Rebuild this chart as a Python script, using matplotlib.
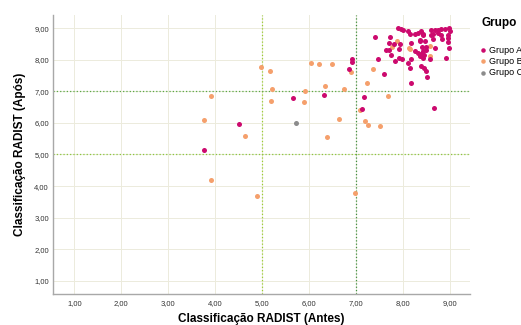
import matplotlib
matplotlib.use("Agg")
import matplotlib.pyplot as plt
from matplotlib.ticker import FuncFormatter

plt.rcParams['font.family'] = ['Liberation Sans', 'DejaVu Sans']

# Grupo A (magenta)
a_antes = [7.40, 6.92, 6.92, 7.47, 6.85, 5.66, 6.31, 7.17, 7.13, 4.51, 3.76,
           8.16, 8.65, 7.59, 8.50,
           7.88, 7.96, 7.99, 8.11, 8.14, 7.72, 7.70, 7.81, 7.93, 7.63, 7.70,
           7.91, 7.75, 7.91, 7.98, 7.82, 8.11,
           8.25, 8.38, 8.42, 8.60, 8.67, 8.74, 8.81, 8.89, 8.97, 8.99, 8.63,
           8.74, 8.81, 8.95, 8.17, 8.35, 8.49, 8.42, 8.25, 8.38, 8.45, 8.35,
           8.95, 8.95, 8.97, 8.91, 8.17, 8.38, 8.45, 8.49, 8.14, 8.43, 8.56,
           8.64, 8.82, 8.67, 8.39, 8.48, 8.32, 8.43, 8.32, 8.60, 8.36, 8.46]
a_apos = [8.71, 8.03, 7.94, 8.01, 7.71, 6.78, 6.90, 6.82, 6.44, 5.96, 5.13,
          7.26, 6.47, 7.55, 7.47,
          9.01, 8.99, 8.94, 8.92, 8.82, 8.71, 8.53, 8.51, 8.50, 8.31, 8.31,
          8.35, 8.15, 8.06, 8.03, 7.96, 7.90,
          8.82, 8.90, 8.82, 8.96, 8.96, 8.96, 8.99, 8.99, 9.00, 8.92, 8.82,
          8.85, 8.80, 8.80, 8.53, 8.59, 8.32, 8.27, 8.27, 8.19, 8.15, 8.11,
          8.69, 8.57, 8.38, 8.06, 8.01, 7.80, 7.74, 7.64, 7.74, 8.05, 8.02,
          8.65, 8.65, 8.37, 8.42, 8.42, 8.21, 8.79, 8.84, 8.79, 8.63, 8.58]

# Grupo B (laranja)
b_antes = [6.88, 7.36, 4.98, 5.16, 6.03, 6.21, 6.49, 7.22, 6.33, 5.21, 5.92,
           6.73, 3.92, 5.18, 5.89, 7.09, 7.19, 7.26, 7.50, 6.63, 3.76, 4.64,
           6.38, 3.91, 4.89, 6.97, 7.67,
           7.87, 7.77, 8.13, 8.56, 8.14, 8.56]
b_apos = [7.62, 7.70, 7.78, 7.63, 7.89, 7.86, 7.87, 7.27, 7.18, 7.09, 7.02,
          7.07, 6.85, 6.71, 6.65, 6.41, 6.07, 5.94, 5.89, 6.11, 6.08, 5.60,
          5.56, 4.18, 3.70, 3.79, 6.86,
          8.59, 8.41, 8.38, 8.43, 8.35, 8.13]

# Grupo C (cinza)
c_antes = [5.72]
c_apos = [6.00]

ticks = [1, 2, 3, 4, 5, 6, 7, 8, 9]

fig = plt.figure(figsize=(5.21, 3.25), dpi=100)
ax = fig.add_axes([0.102, 0.0954, 0.80, 0.8585])

ax.set_xlim(0.55, 9.42)
ax.set_ylim(0.58, 9.42)
ax.set_xticks(ticks)
ax.set_yticks(ticks)
fmt = FuncFormatter(lambda v, p: f"{v:.2f}".replace('.', ','))
ax.xaxis.set_major_formatter(fmt)
ax.yaxis.set_major_formatter(fmt)
ax.tick_params(length=0, labelsize=5.5, colors='#333333')
ax.tick_params(axis='x', pad=4)
ax.tick_params(axis='y', pad=3)
ax.grid(True, color='#ecebdc', lw=0.7)
ax.set_axisbelow(True)

for s in ['top', 'right']:
    ax.spines[s].set_visible(False)
for s in ['left', 'bottom']:
    ax.spines[s].set_color('#a8a8a8')
    ax.spines[s].set_linewidth(1.0)

# linhas de referencia
ax.axvline(5, color='#9acd32', ls=':', lw=0.9)
ax.axvline(7, color='#3f8f3f', ls=':', lw=0.9)
ax.axhline(7, color='#5aa845', ls=':', lw=0.9)
ax.axhline(5, color='#8cc63f', ls=':', lw=0.9)

ax.scatter(b_antes, b_apos, s=13, color='#f5a06c', lw=0, label='Grupo B', zorder=3)
ax.scatter(c_antes, c_apos, s=13, color='#8c8c8c', lw=0, label='Grupo C', zorder=3)
ax.scatter(a_antes, a_apos, s=13, color='#cc0a6e', lw=0, label='Grupo A', zorder=4)

ax.set_xlabel('Classificação RADIST (Antes)', fontsize=8.5, fontweight='bold', labelpad=5)
ax.set_ylabel('Classificação RADIST (Após)', fontsize=8.5, fontweight='bold', labelpad=6)

fig.text(481 / 521, 1 - 23 / 325, 'Grupo', fontsize=8.5, fontweight='bold', va='center')
h, l = ax.get_legend_handles_labels()
order = [2, 0, 1]
fig.legend([h[i] for i in order], [l[i] for i in order],
           loc='upper left', bbox_to_anchor=(474 / 521, 1 - 42 / 325),
           frameon=False, fontsize=6.5, handletextpad=0.1, labelspacing=0.25,
           markerscale=0.9, borderaxespad=0, handlelength=1.2)

fig.savefig('out.png', dpi=100)
